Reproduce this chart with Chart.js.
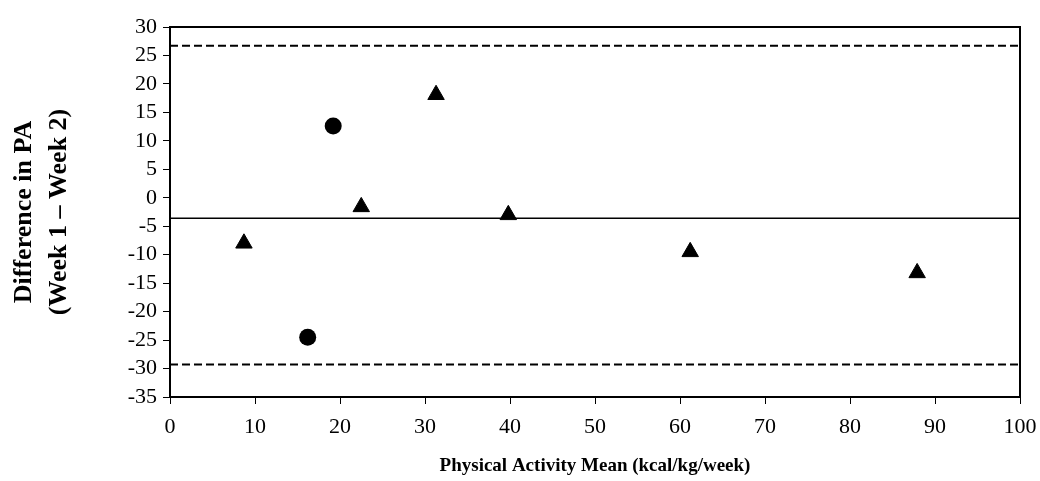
<!DOCTYPE html>
<html>
<head>
<meta charset="utf-8">
<script src="https://cdn.jsdelivr.net/npm/chart.js@4/dist/chart.umd.min.js"></script>
<style>
  html, body { margin: 0; padding: 0; background: #fff; }
  #wrap { width: 1040px; height: 481px; }
</style>
</head>
<body>
<div id="wrap"><canvas id="chart" width="1040" height="481"></canvas></div>
<script>
// values
const triangleX = [8.7, 22.5, 31.3, 39.8, 61.2, 87.9];
const triangleY = [-8.0, -1.6, 18.1, -3.0, -9.5, -13.2];
const circleX = [16.2, 19.2];
const circleY = [-24.5, 12.6];

const meanDiff = -3.6;
const upperLimit = 26.7;
const lowerLimit = -29.3;

const xRange = [0, 100];
const yRange = [-35, 30];

const serif = "'Liberation Serif', 'Times New Roman', serif";

const toPoints = (xs, ys) => xs.map((x, i) => ({ x: x, y: ys[i] }));
const hLine = v => xRange.map(x => ({ x: x, y: v }));

// box round the plot area (top and right sides)
const frame = {
    id: 'frame',
    afterDraw(chart) {
        const a = chart.chartArea;
        const ctx = chart.ctx;
        ctx.save();
        ctx.strokeStyle = '#000';
        ctx.lineWidth = 2;
        ctx.strokeRect(a.left, a.top, a.right - a.left, a.bottom - a.top);
        ctx.restore();
    }
};

new Chart(document.getElementById('chart'), {
    type: 'scatter',
    data: {
        datasets: [
            {
                label: 'Upper limit',
                data: hLine(upperLimit),
                showLine: true,
                borderColor: '#000',
                borderWidth: 2,
                borderDash: [8, 4],
                pointRadius: 0
            },
            {
                label: 'Mean',
                data: hLine(meanDiff),
                showLine: true,
                borderColor: '#000',
                borderWidth: 1.5,
                pointRadius: 0
            },
            {
                label: 'Lower limit',
                data: hLine(lowerLimit),
                showLine: true,
                borderColor: '#000',
                borderWidth: 2,
                borderDash: [8, 4],
                pointRadius: 0
            },
            {
                label: 'Triangles',
                data: toPoints(triangleX, triangleY),
                pointStyle: 'triangle',
                pointRadius: 9.5,
                backgroundColor: '#000',
                borderColor: '#000',
                borderWidth: 1
            },
            {
                label: 'Circles',
                data: toPoints(circleX, circleY),
                pointStyle: 'circle',
                pointRadius: 8.5,
                backgroundColor: '#000',
                borderColor: '#000',
                borderWidth: 0
            }
        ]
    },
    options: {
        responsive: false,
        animation: false,
        layout: { padding: { top: 27, right: 20, bottom: 0, left: 0 } },
        plugins: {
            legend: { display: false },
            tooltip: { enabled: false }
        },
        scales: {
            x: {
                type: 'linear',
                min: xRange[0],
                max: xRange[1],
                afterFit: s => { s.height = 84; s.paddingLeft = 0; s.paddingRight = 0; },
                grid: { drawOnChartArea: false, drawTicks: true, tickLength: 7, color: '#000' },
                border: { color: '#000', width: 2 },
                ticks: {
                    stepSize: 10,
                    autoSkip: false,
                    maxRotation: 0,
                    padding: 10,
                    color: '#000',
                    font: { family: serif, size: 22 }
                },
                title: {
                    display: true,
                    text: 'Physical Activity Mean (kcal/kg/week)',
                    color: '#000',
                    font: { family: serif, size: 19, weight: 'bold' },
                    padding: { top: 0, bottom: 4 }
                }
            },
            y: {
                min: yRange[0],
                max: yRange[1],
                afterFit: s => { s.width = 170; s.paddingTop = 0; s.paddingBottom = 0; },
                grid: { drawOnChartArea: false, drawTicks: true, tickLength: 7, color: '#000' },
                border: { color: '#000', width: 2 },
                ticks: {
                    stepSize: 5,
                    autoSkip: false,
                    padding: 6,
                    color: '#000',
                    font: { family: serif, size: 22 }
                },
                title: {
                    display: true,
                    text: ['Difference in PA', '(Week 1 \u2013 Week 2)'],
                    color: '#000',
                    font: { family: serif, size: 26, weight: 'bold', lineHeight: 1.35 },
                    padding: { top: 7, bottom: 0 }
                }
            }
        }
    },
    plugins: [frame]
});
</script>
</body>
</html>
